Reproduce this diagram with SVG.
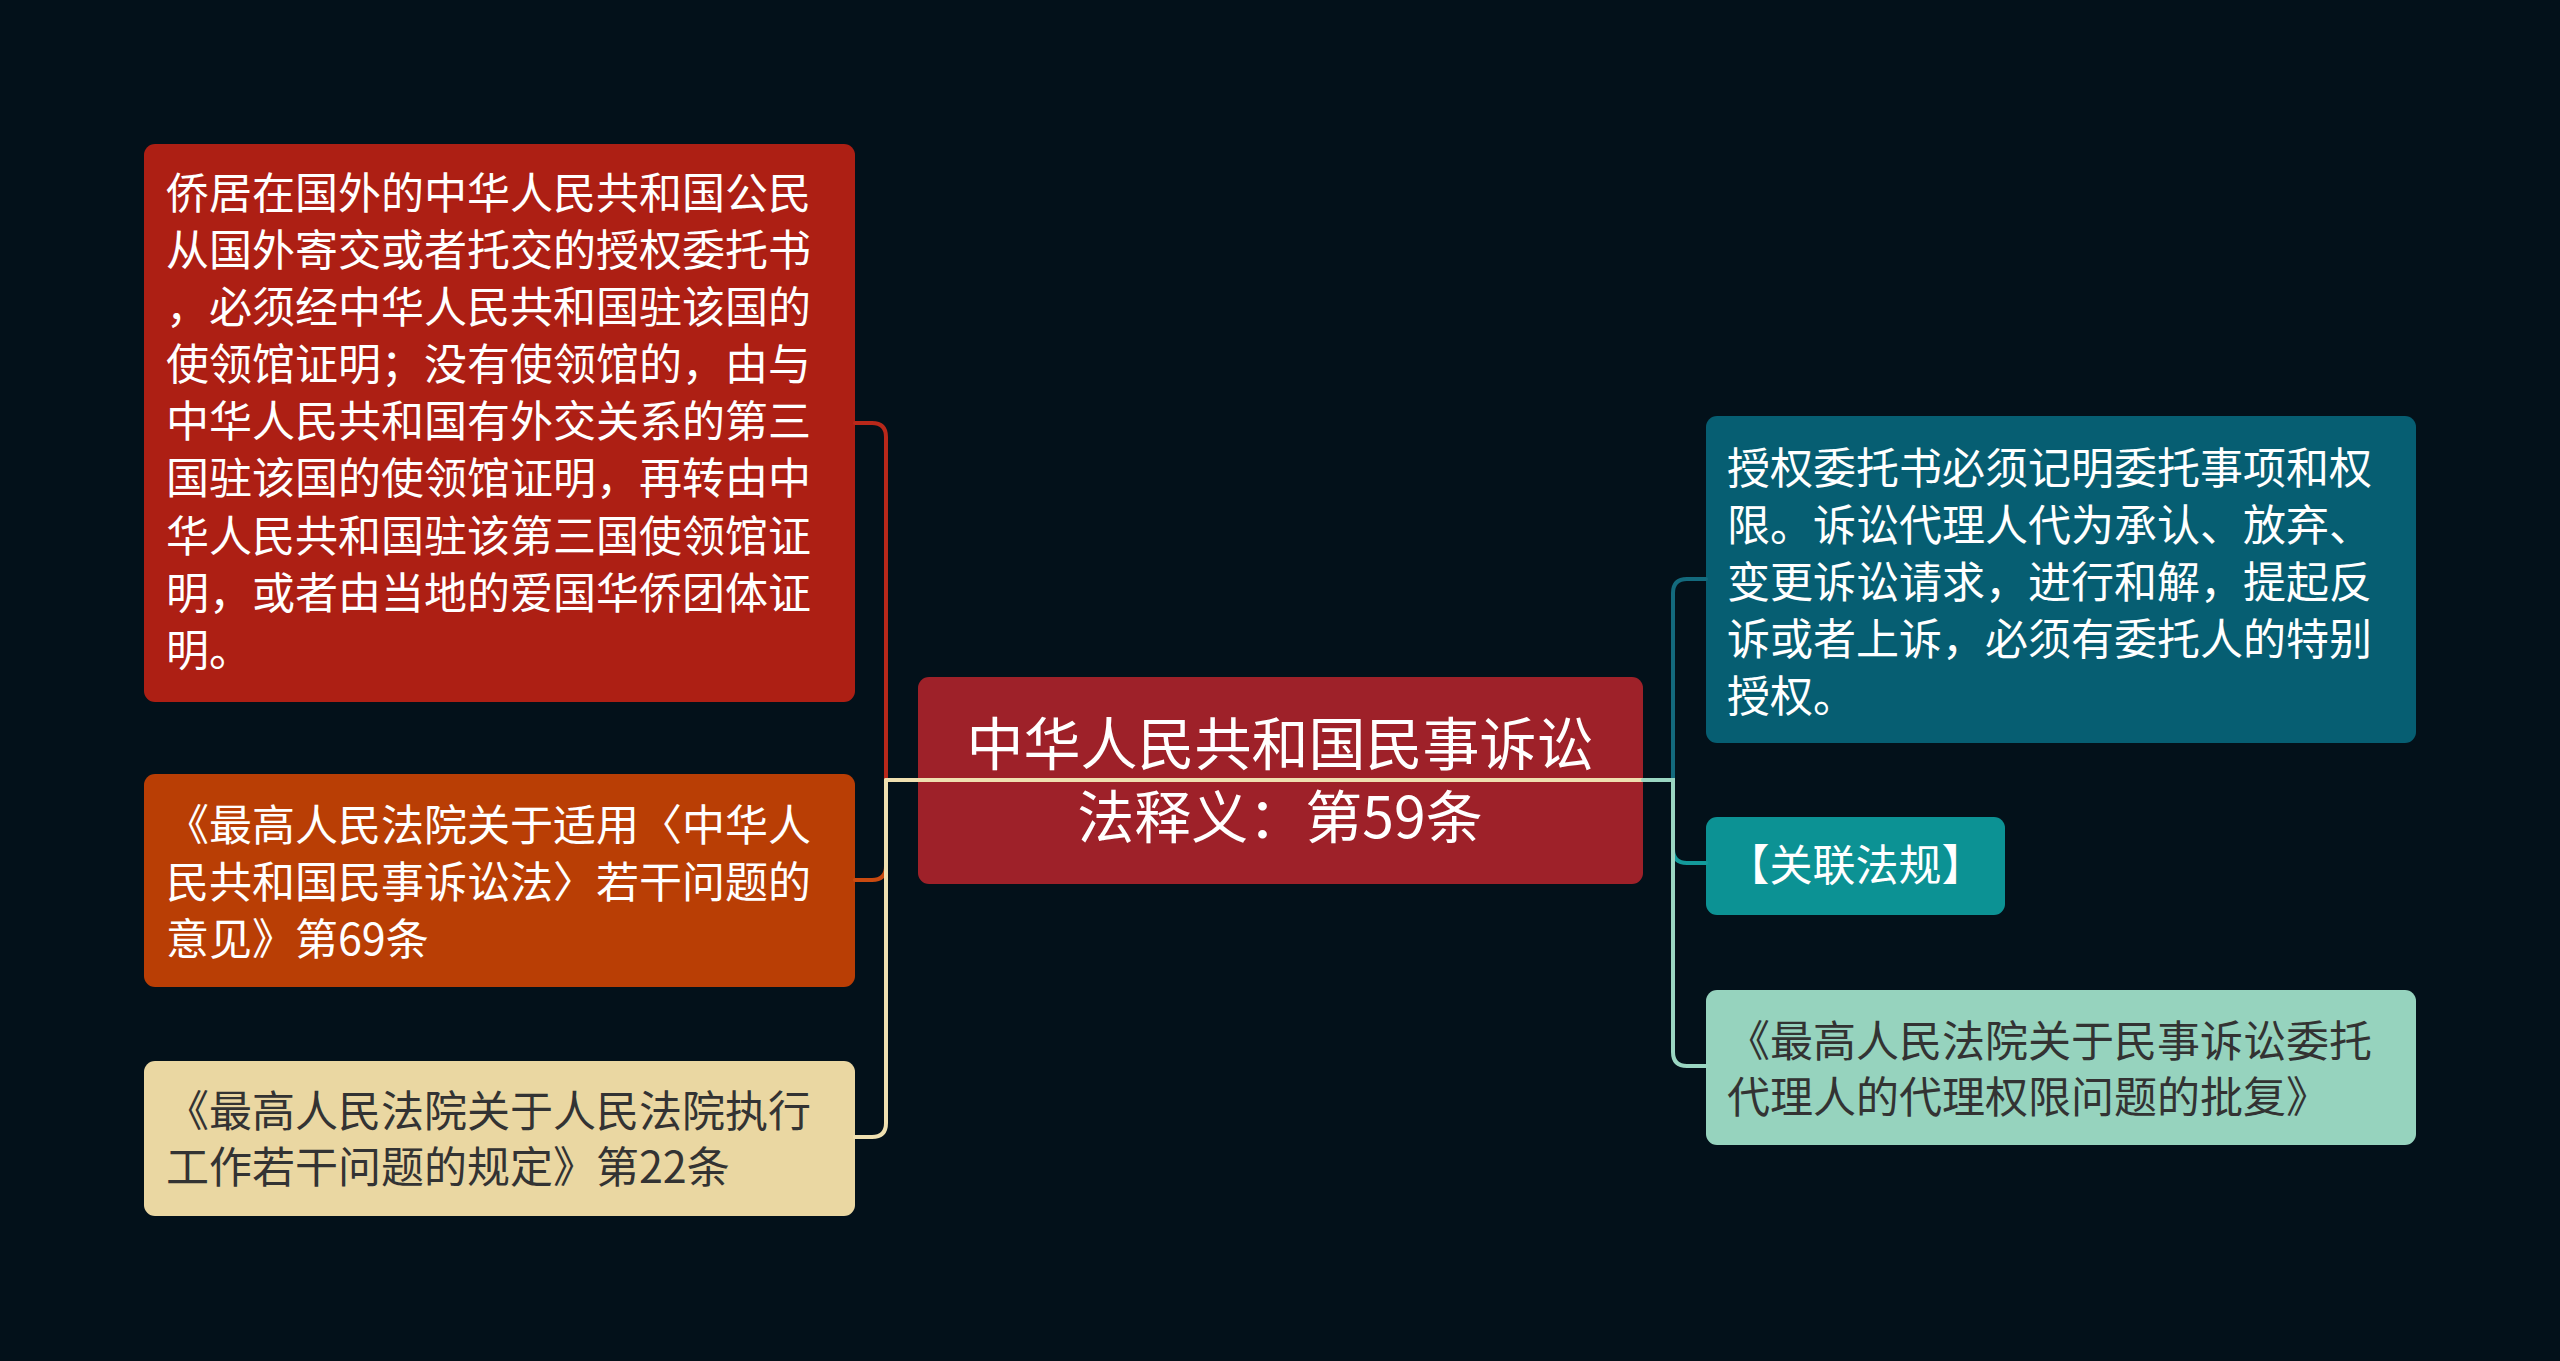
<svg xmlns="http://www.w3.org/2000/svg" width="2560" height="1361" viewBox="0 0 2560 1361">
<style>
.t{font-family:"Noto Sans CJK SC","Noto Sans",sans-serif;font-size:43px;fill:#ffffff}
.d{fill:#333333}
.c{font-size:57px;text-anchor:middle}
.ln{fill:none;stroke-width:4;stroke-linecap:round}
</style>
<rect width="2560" height="1361" fill="#03111a"/>
<g id="node-l1">
<rect x="144" y="144" width="711" height="558" rx="11" fill="#ad1f14"/>
<text class="t" x="166" y="209">侨居在国外的中华人民共和国公民</text>
<text class="t" x="166" y="266">从国外寄交或者托交的授权委托书</text>
<text class="t" x="166" y="323">，必须经中华人民共和国驻该国的</text>
<text class="t" x="166" y="380">使领馆证明；没有使领馆的，由与</text>
<text class="t" x="166" y="437">中华人民共和国有外交关系的第三</text>
<text class="t" x="166" y="494">国驻该国的使领馆证明，再转由中</text>
<text class="t" x="166" y="552">华人民共和国驻该第三国使领馆证</text>
<text class="t" x="166" y="609">明，或者由当地的爱国华侨团体证</text>
<text class="t" x="166" y="666">明。</text>
</g>
<g id="node-l2">
<rect x="144" y="774" width="711" height="213" rx="11" fill="#b93e05"/>
<text class="t" x="166" y="841">《最高人民法院关于适用〈中华人</text>
<text class="t" x="166" y="898">民共和国民事诉讼法〉若干问题的</text>
<text class="t" x="166" y="955">意见》第69条</text>
</g>
<g id="node-l3">
<rect x="144" y="1061" width="711" height="155" rx="11" fill="#ead7a2"/>
<text class="t d" x="166" y="1127">《最高人民法院关于人民法院执行</text>
<text class="t d" x="166" y="1183">工作若干问题的规定》第22条</text>
</g>
<g id="node-center">
<rect x="918" y="677" width="725" height="207" rx="11" fill="#9e2129"/>
<text class="t c" x="1280" y="765">中华人民共和国民事诉讼</text>
<text class="t c" x="1280" y="838">法释义：第59条</text>
</g>
<g id="node-r1">
<rect x="1706" y="416" width="710" height="327" rx="11" fill="#065e72"/>
<text class="t" x="1727" y="484">授权委托书必须记明委托事项和权</text>
<text class="t" x="1727" y="541">限。诉讼代理人代为承认、放弃、</text>
<text class="t" x="1727" y="598">变更诉讼请求，进行和解，提起反</text>
<text class="t" x="1727" y="655">诉或者上诉，必须有委托人的特别</text>
<text class="t" x="1727" y="712">授权。</text>
</g>
<g id="node-r2">
<rect x="1706" y="817" width="299" height="98" rx="11" fill="#0c9294"/>
<text class="t" x="1855.5" y="881" text-anchor="middle">【关联法规】</text>
</g>
<g id="node-r3">
<rect x="1706" y="990" width="710" height="155" rx="11" fill="#96d3be"/>
<text class="t d" x="1727" y="1057">《最高人民法院关于民事诉讼委托</text>
<text class="t d" x="1727" y="1113">代理人的代理权限问题的批复》</text>
</g>
<g id="connectors">
<path class="ln" stroke="#b8281a" d="M855 423 H872 Q886 423 886 437 V780"/>
<path class="ln" stroke="#c94a10" d="M886 780 V866 Q886 880 872 880 H855"/>
<path class="ln" stroke="#efe0b0" d="M886 780 V1123 Q886 1137 872 1137 H855"/>
<path class="ln" stroke="#efe0b0" d="M886 780 H1643"/>
<path class="ln" stroke="#136a7d" d="M1673 780 V593 Q1673 579 1687 579 H1706"/>
<path class="ln" stroke="#139a9b" d="M1673 780 V849 Q1673 863 1687 863 H1706"/>
<path class="ln" stroke="#9ad6c2" d="M1643 780 H1673 V1052 Q1673 1066 1687 1066 H1706"/>
</g>
</svg>
